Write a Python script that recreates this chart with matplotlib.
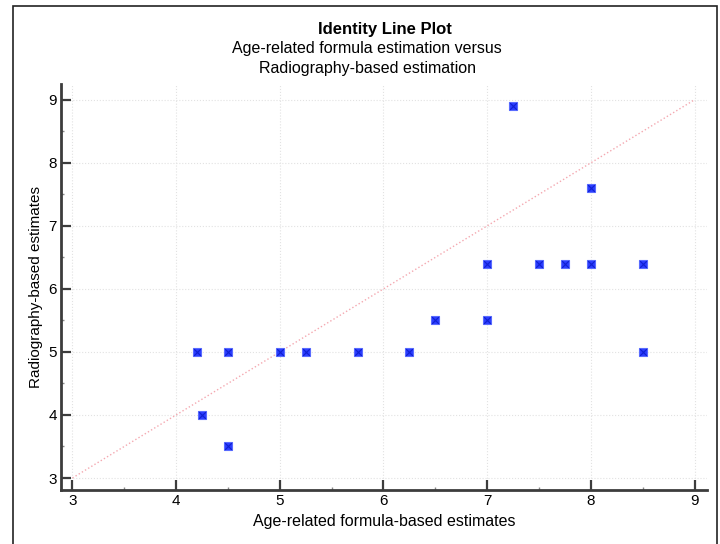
import matplotlib.pyplot as plt
from matplotlib.patches import Rectangle
from matplotlib.ticker import MultipleLocator

plt.rcParams['font.family'] = ['Liberation Sans', 'DejaVu Sans']

# formula-based (x) vs radiography-based (y) estimates
formula_est = [4.2, 4.25, 4.5, 4.5, 5.0, 5.25, 5.75, 6.25, 6.5, 7.0,
               7.0, 7.25, 7.5, 7.75, 8.0, 8.0, 8.5, 8.5]
radio_est = [5.0, 4.0, 5.0, 3.5, 5.0, 5.0, 5.0, 5.0, 5.5, 5.5,
             6.4, 8.9, 6.4, 6.4, 6.4, 7.6, 6.4, 5.0]
identity = [3, 9]

fig = plt.figure(figsize=(7.2, 5.44), dpi=100)
ax = fig.add_axes([0.0847, 0.0993, 0.8973, 0.7463])

# outer frame
fig.patches.append(Rectangle((13 / 720, -0.01), 704 / 720, 1 - 6 / 544 + 0.01,
                             transform=fig.transFigure, fill=False,
                             edgecolor='#222222', linewidth=1.2))

ax.plot(identity, identity, linestyle=':', color='#f4a8b0', linewidth=1.0, zorder=1)
ax.scatter(formula_est, radio_est, marker='s', s=32, color='#2a3cff',
           edgecolors='#5a6cff', linewidths=0.8, zorder=3)
ax.scatter(formula_est, radio_est, marker='x', s=24, color='#1020d0',
           linewidths=0.8, zorder=4)

ax.set_xlim(2.89, 9.12)
ax.set_ylim(2.81, 9.25)
ax.xaxis.set_major_locator(MultipleLocator(1))
ax.yaxis.set_major_locator(MultipleLocator(1))
ax.xaxis.set_minor_locator(MultipleLocator(0.5))
ax.yaxis.set_minor_locator(MultipleLocator(0.5))

ax.grid(True, which='major', linestyle=':', color='#e2e2e2', linewidth=0.8)
ax.set_axisbelow(True)

for side in ['top', 'right']:
    ax.spines[side].set_visible(False)
for side in ['left', 'bottom']:
    ax.spines[side].set_color('#3c3c3c')
    ax.spines[side].set_linewidth(2)

ax.tick_params(which='major', direction='in', length=7, width=1.6,
               color='#3c3c3c', labelsize=11, pad=3)
ax.tick_params(which='minor', direction='in', length=2.5, width=1,
               color='#888888')

ax.set_xlabel('Age-related formula-based estimates', fontsize=11.5, labelpad=4)
ax.set_ylabel('Radiography-based estimates', fontsize=11, labelpad=4)

fig.text(0.535, 0.946, 'Identity Line Plot', ha='center', va='center',
         fontsize=12, fontweight='bold')
fig.text(0.51, 0.91, 'Age-related formula estimation versus', ha='center',
         va='center', fontsize=11.5)
fig.text(0.51, 0.875, 'Radiography-based estimation', ha='center',
         va='center', fontsize=11.5)

fig.savefig('out.png', dpi=100)
